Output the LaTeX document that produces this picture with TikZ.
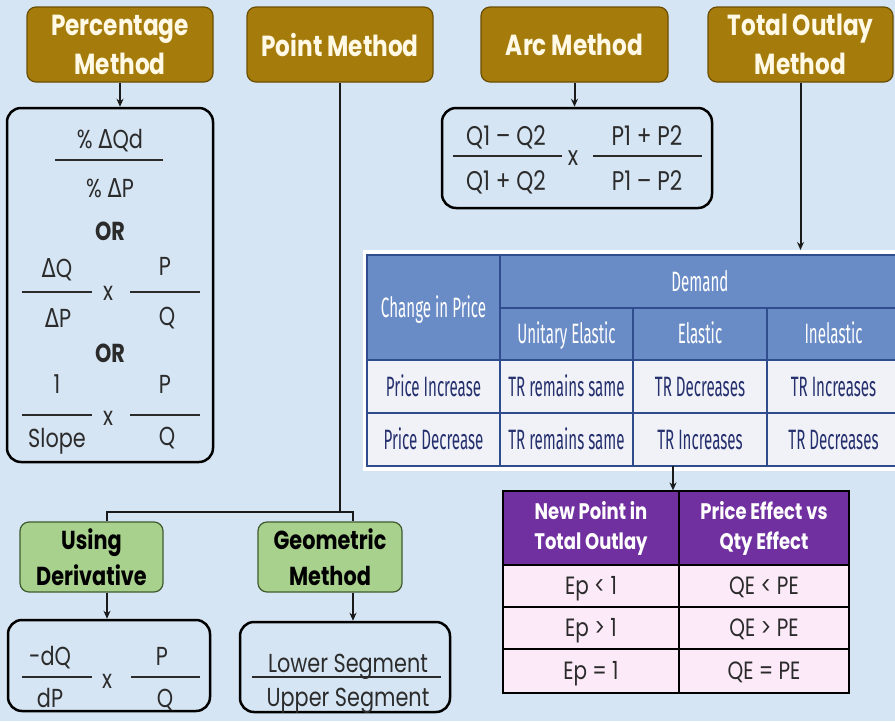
\documentclass[tikz,border=0pt]{standalone}
\usepackage{fontspec}
\setmainfont{Poppins}[FakeStretch=0.8]
\newfontfamily\dvfont{DejaVu Sans}[FakeStretch=0.8]
\newfontfamily\tabfont{Fira Sans}[FakeStretch=0.54]
\usetikzlibrary{arrows.meta}
\definecolor{bg}{HTML}{D5E5F3}
\definecolor{gold}{HTML}{A57C0B}
\definecolor{golddk}{HTML}{6B4E04}
\definecolor{goldtxt}{HTML}{FFF9E6}
\definecolor{grn}{HTML}{A9D18E}
\definecolor{grndk}{HTML}{3F5A2E}
\definecolor{ftc}{HTML}{2B2B2B}
\definecolor{bhead}{HTML}{6A8CC6}
\definecolor{bline}{HTML}{2F4C8C}
\definecolor{rowc}{HTML}{F1F2F8}
\definecolor{rowt}{HTML}{25306E}
\definecolor{purp}{HTML}{7030A0}
\definecolor{pink}{HTML}{FCEAF8}
\definecolor{linec}{HTML}{1A1A1A}
\newcommand\Dl{{\dvfont Δ}}
\begin{document}
\begin{tikzpicture}[x=1pt,y=-1pt,
  goldbox/.style={draw=golddk, fill=gold, line width=1.2pt, rounded corners=9pt,
    minimum height=75pt, inner sep=0pt, align=center, text=goldtxt,
    font=\fontsize{29}{39}\selectfont\bfseries},
  grnbox/.style={draw=grndk, fill=grn, line width=1.2pt, rounded corners=9pt,
    minimum height=70pt, inner sep=0pt, align=center, text=black,
    font=\fontsize{26}{36}\selectfont\bfseries},
  fbox/.style={draw=black, line width=2.5pt, rounded corners=14pt, inner sep=0pt},
  ft/.style={inner sep=0pt, anchor=base, text=ftc, font=\fontsize{26}{28}\selectfont},
  ftb/.style={ft, font=\fontsize{26}{28}\selectfont\bfseries},
  fta/.style={ft, font=\fontsize{27}{28}\selectfont},
  fbar/.style={draw=ftc, line width=2pt},
  conn/.style={draw=linec, line width=2pt},
  arr/.style={conn, -{Stealth[length=8pt,width=7pt]}},
  bcell/.style={draw=bline, line width=1.2pt, fill=bhead, text=white, inner sep=0pt,
    font=\tabfont\fontsize{28}{30}\selectfont, text height=19pt, text depth=0pt},
  brow/.style={bcell, fill=rowc, text=rowt},
  pcellh/.style={draw=black, line width=1.2pt, fill=purp, text=white, inner sep=0pt,
    align=center, font=\fontsize{22.5}{30}\selectfont\bfseries},
  pcell/.style={draw=black, line width=1.2pt, fill=pink, text=ftc, inner sep=0pt,
    font=\fontsize{25}{28}\selectfont, text height=17pt, text depth=0pt}
]
\useasboundingbox (0,0) rectangle (895,721);
\clip (0,0) rectangle (895,721);
\fill[bg] (0,0) rectangle (895,721);

% top method boxes
\node[goldbox, minimum width=186pt] (pct) at (120,44.5) {Percentage\\Method};
\node[goldbox, minimum width=186pt] (point) at (340,44.5) {Point Method};
\node[goldbox, minimum width=187pt] (arc) at (574.5,44.5) {Arc Method};
\node[goldbox, minimum width=185pt] (tom) at (800.5,44.5) {Total Outlay\\Method};

% formula boxes
\node[fbox, minimum width=206pt, minimum height=354pt] (pctbox) at (110,285) {};
\node[fbox, minimum width=270pt, minimum height=100pt] (arcbox) at (577,158) {};
\node[fbox, minimum width=202pt, minimum height=91pt] (dbox) at (109,665.5) {};
\node[fbox, minimum width=210pt, minimum height=90pt] (gbox) at (345,667) {};

% percentage formulas
\node[ft] (p1) at (110,148) {\% \Dl Qd};
\draw[fbar] (55,160) -- (163,160);
\node[ft] (p2) at (110,197) {\% \Dl P};
\node[ftb] (p3) at (110,240) {OR};
\node[ft] (p4) at (57,277) {\Dl Q};
\node[ft] (p5) at (165,275) {P};
\draw[fbar] (22,292) -- (92,292);
\draw[fbar] (130,292) -- (200,292);
\node[ft] (p6) at (108,300) {x};
\node[ft] (p7) at (58,327) {\Dl P};
\node[ft] (p8) at (167,325) {Q};
\node[ftb] (p9) at (110,362) {OR};
\node[ft] (p10) at (57,393) {1};
\node[ft] (p11) at (165,393) {P};
\draw[fbar] (22,415) -- (92,415);
\draw[fbar] (130,415) -- (200,415);
\node[ft] (p12) at (108,425) {x};
\node[ft] (p13) at (57,447) {Slope};
\node[ft] (p14) at (167,445) {Q};

% arc formula
\node[fta] (a1) at (506,145) {Q1 – Q2};
\draw[fbar] (453,156) -- (562,156);
\node[fta] (a2) at (506,190) {Q1 + Q2};
\node[fta] (a3) at (573,165) {x};
\node[fta] (a4) at (647,145) {P1 + P2};
\draw[fbar] (593,156) -- (702,156);
\node[fta] (a5) at (647,190) {P1 – P2};

% point method branches
\node[grnbox, minimum width=143pt] (deriv) at (91.5,557) {Using\\Derivative};
\node[grnbox, minimum width=144pt] (geo) at (330,557) {Geometric\\Method};
\coordinate (hy) at (0,512);
\coordinate (dl) at (107,512);
\coordinate (gl) at (353,512);
\draw[conn] (point.south) -- (point.south |- hy);
\draw[conn] (dl |- deriv.north) -- (dl) -- (gl) -- (gl |- geo.north);
\draw[arr] (dl |- deriv.south) -- (dl |- dbox.north);
\draw[arr] (gl |- geo.south) -- (gl |- gbox.north);

% derivative formula
\node[ft] (d1) at (50,665) {-dQ};
\draw[fbar] (22,677) -- (92,677);
\node[ft] (d2) at (50,707) {dP};
\node[ft] (d3) at (107,688) {x};
\node[ft] (d4) at (162,665) {P};
\draw[fbar] (131,677) -- (200,677);
\node[ft] (d5) at (165,707) {Q};

% geometric formula
\node[ft] (g1) at (348,672) {Lower Segment};
\draw[fbar] (252,677) -- (441,677);
\node[ft] (g2) at (348,706) {Upper Segment};

% arrows from top boxes
\draw[arr] (pct.south) -- (pct.south |- pctbox.north);
\draw[arr] (arc.south) -- (arc.south |- arcbox.north);
\coordinate (ttop) at (0,250);
\draw[arr] (tom.south) -- (tom.south |- ttop);

% total outlay table
\fill[white] (363,250) rectangle (900,471);
\node[bcell, minimum width=133pt, minimum height=105pt] (chp) at (433.5,307.5) {Change in Price};
\node[bcell, minimum width=400pt, minimum height=53pt] (dem) at (700,281.5) {Demand};
\node[bcell, minimum width=133pt, minimum height=52pt] (ue) at (566.5,334) {Unitary Elastic};
\node[bcell, minimum width=134pt, minimum height=52pt] (el) at (700,334) {Elastic};
\node[bcell, minimum width=133pt, minimum height=52pt] (inel) at (833.5,334) {Inelastic};
\node[brow, minimum width=133pt, minimum height=53pt] (r1a) at (433.5,386.5) {Price Increase};
\node[brow, minimum width=133pt, minimum height=53pt] (r1b) at (566.5,386.5) {TR remains same};
\node[brow, minimum width=134pt, minimum height=53pt] (r1c) at (700,386.5) {TR Decreases};
\node[brow, minimum width=133pt, minimum height=53pt] (r1d) at (833.5,386.5) {TR Increases};
\node[brow, minimum width=133pt, minimum height=53pt] (r2a) at (433.5,439.5) {Price Decrease};
\node[brow, minimum width=133pt, minimum height=53pt] (r2b) at (566.5,439.5) {TR remains same};
\node[brow, minimum width=134pt, minimum height=53pt] (r2c) at (700,439.5) {TR Increases};
\node[brow, minimum width=133pt, minimum height=53pt] (r2d) at (833.5,439.5) {TR Decreases};

% purple table
\node[pcellh, minimum width=176pt, minimum height=74pt] (ph1) at (591,528) {New Point in\\Total Outlay};
\node[pcellh, minimum width=170pt, minimum height=74pt] (ph2) at (764,528) {Price Effect vs\\Qty Effect};
\node[pcell, minimum width=176pt, minimum height=42pt] (q11) at (591,586) {Ep < 1};
\node[pcell, minimum width=170pt, minimum height=42pt] (q12) at (764,586) {QE < PE};
\node[pcell, minimum width=176pt, minimum height=42pt] (q21) at (591,628) {Ep > 1};
\node[pcell, minimum width=170pt, minimum height=42pt] (q22) at (764,628) {QE > PE};
\node[pcell, minimum width=176pt, minimum height=44pt] (q31) at (591,671) {Ep = 1};
\node[pcell, minimum width=170pt, minimum height=44pt] (q32) at (764,671) {QE = PE};

\coordinate (tb) at (673,466);
\draw[arr] (tb) -- (tb |- ph1.north);
\end{tikzpicture}
\end{document}
